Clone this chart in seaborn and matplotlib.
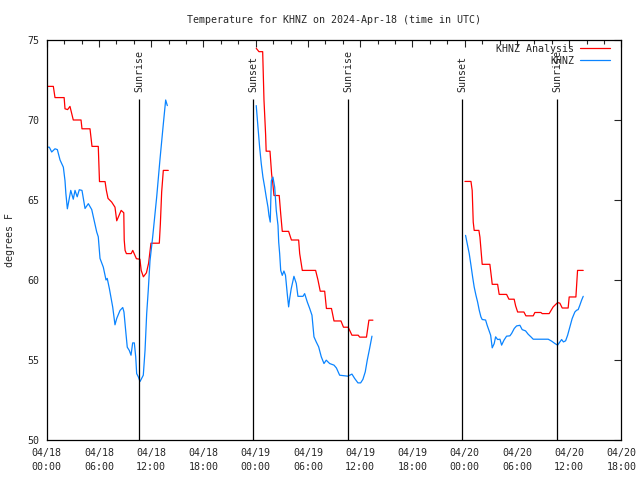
import numpy as np
import pandas as pd
import matplotlib
matplotlib.use("Agg")
import matplotlib.pyplot as plt
import matplotlib.dates as mdates
import seaborn as sns

START = pd.Timestamp("2024-04-18 00:00")

# hours since 04/18 00:00 UTC, temperatures in degrees F
# KHNZ Analysis (red)
ana_hours_1 = [0, 0.76, 0.95, 2.0, 2.1, 2.4, 2.67, 3.05, 3.94, 4.05, 4.97, 5.2, 5.92, 6.06,
               6.7, 6.85, 7.04, 7.46, 7.84, 8.04, 8.55, 8.85, 8.9, 9.0, 9.15, 9.7, 9.88,
               10.3, 10.7, 10.85, 11.1, 11.45, 11.7, 11.97, 12.93, 13.05, 13.2, 13.39, 13.96]
ana_temp_1 = [72.1, 72.1, 71.4, 71.4, 70.7, 70.65, 70.85, 70.0, 70.0, 69.45, 69.45, 68.35, 68.35, 66.15,
              66.15, 65.6, 65.1, 64.87, 64.55, 63.7, 64.35, 64.2, 62.5, 61.85, 61.65, 61.65, 61.85,
              61.33, 61.3, 60.6, 60.2, 60.45, 61.05, 62.3, 62.3, 63.5, 65.5, 66.85, 66.85]
ana_hours_2 = [24.06, 24.37, 24.8, 24.95, 25.14, 25.2, 25.64, 25.83, 25.95, 26.1, 26.7, 26.87,
               27.05, 27.78, 28.1, 28.93, 29.05, 29.35, 30.88, 31.15, 31.41, 31.92, 32.12,
               32.7, 32.99, 33.79, 34.08, 34.62, 35.05, 35.77, 35.94, 36.72, 37.0, 37.46]
ana_temp_2 = [74.48, 74.27, 74.27, 71.25, 69.06, 68.05, 68.05, 66.6, 66.1, 65.28, 65.28, 64.14,
              63.04, 63.04, 62.5, 62.5, 61.65, 60.6, 60.6, 60.0, 59.3, 59.3, 58.22,
              58.22, 57.44, 57.44, 57.05, 57.05, 56.55, 56.55, 56.43, 56.43, 57.49, 57.49]
ana_hours_3 = [48.03, 48.72, 48.86, 48.98, 49.09, 49.63, 49.75, 49.86, 50.01, 50.89, 51.09, 51.16,
               51.78, 51.96, 52.81, 53.08, 53.68, 53.85, 54.08, 54.8, 55.03, 55.87, 56.06,
               56.75, 56.9, 57.7, 58.16, 58.67, 58.93, 59.2, 59.88, 60.0, 60.77, 60.96, 61.61]
ana_temp_3 = [66.16, 66.16, 65.6, 63.62, 63.1, 63.1, 62.68, 61.96, 60.98, 60.98, 60.08, 59.73,
              59.73, 59.1, 59.1, 58.8, 58.8, 58.38, 58.0, 58.0, 57.76, 57.76, 57.97,
              57.97, 57.9, 57.9, 58.32, 58.59, 58.55, 58.25, 58.25, 58.94, 58.94, 60.6, 60.6]

# KHNZ observations (blue)
obs_hours_1 = [0, 0.3, 0.57, 0.95, 1.22, 1.53, 1.91, 2.1, 2.2, 2.37, 2.76, 3.05, 3.25, 3.5, 3.74,
               4.05, 4.4, 4.78, 5.17, 5.74, 5.92, 6.12, 6.5, 6.81, 6.95, 7.2, 7.58, 7.84, 8.04,
               8.42, 8.73, 8.87, 9.1, 9.25, 9.48, 9.68, 9.87, 10.06, 10.22, 10.33, 10.52, 10.71,
               11.09, 11.29, 11.48, 11.66, 11.86, 12.17, 12.63, 13.0, 13.39, 13.66, 13.85]
obs_temp_1 = [68.3, 68.3, 68.0, 68.2, 68.15, 67.5, 67.05, 66.2, 65.4, 64.45, 65.6, 65.05, 65.6, 65.2, 65.64,
              65.6, 64.47, 64.77, 64.4, 63.0, 62.7, 61.35, 60.8, 60.0, 60.1, 59.45, 58.3, 57.2, 57.6,
              58.1, 58.28, 58.0, 56.65, 55.8, 55.6, 55.3, 56.07, 56.07, 55.2, 54.15, 53.95, 53.65,
              54.05, 55.6, 57.9, 59.35, 61.2, 62.7, 65.2, 67.5, 69.75, 71.25, 70.9]
obs_hours_2 = [24.06, 24.26, 24.45, 24.64, 24.83, 25.03, 25.21, 25.41, 25.52, 25.67, 25.79, 25.98,
               26.18, 26.36, 26.56, 26.64, 26.75, 26.87, 27.05, 27.24, 27.42, 27.62, 27.78, 27.9,
               28.08, 28.39, 28.66, 28.85, 29.43, 29.62, 29.92, 30.2, 30.46, 30.69, 30.95, 31.23,
               31.53, 31.84, 32.1, 32.49, 32.99, 33.27, 33.64, 34.59, 35.05, 35.36, 35.74, 36.05,
               36.31, 36.58, 36.81, 37.08, 37.35]
obs_temp_2 = [70.9, 69.55, 68.3, 67.26, 66.43, 65.8, 65.18, 64.55, 64.04, 63.62, 66.2, 66.43,
              65.8, 64.35, 63.41, 62.37, 61.65, 60.6, 60.29, 60.56, 60.3, 59.15, 58.32, 58.84,
              59.46, 60.23, 59.78, 58.98, 58.98, 59.15, 58.63, 58.22, 57.8, 56.45, 56.13, 55.82,
              55.2, 54.78, 54.99, 54.78, 54.68, 54.5, 54.05, 53.99, 54.12, 53.85, 53.57, 53.57,
              53.79, 54.26, 54.99, 55.72, 56.49]
obs_hours_3 = [48.1, 48.33, 48.52, 48.72, 48.91, 49.09, 49.29, 49.48, 49.67, 49.86, 50.01, 50.4,
               50.58, 50.78, 50.98, 51.16, 51.39, 51.55, 51.78, 52.05, 52.24, 52.51, 52.81, 53.19,
               53.39, 53.69, 53.96, 54.34, 54.6, 54.99, 55.29, 55.6, 55.87, 57.59, 57.98, 58.36,
               58.67, 58.93, 59.13, 59.34, 59.59, 59.82, 60.08, 60.34, 60.65, 60.85, 61.03, 61.22,
               61.42, 61.61]
obs_temp_3 = [62.79, 62.16, 61.65, 60.92, 60.19, 59.56, 59.05, 58.63, 58.11, 57.7, 57.53, 57.5,
              57.17, 56.86, 56.55, 55.76, 56.03, 56.45, 56.28, 56.3, 55.93, 56.24, 56.49, 56.51,
              56.66, 56.97, 57.13, 57.17, 56.9, 56.82, 56.61, 56.45, 56.3, 56.3, 56.18, 56.03,
              55.93, 56.13, 56.28, 56.13, 56.2, 56.55, 57.07, 57.59, 58.0, 58.11, 58.15, 58.42,
              58.73, 58.98]

sun_hours = [10.64, 23.72, 34.62, 47.74, 58.6]
sun_labels = ["Sunrise", "Sunset", "Sunrise", "Sunset", "Sunrise"]


def to_time(hours):
    return START + pd.to_timedelta(np.array(hours), unit="h")


rows = []
for name, segs in [("KHNZ Analysis", [(ana_hours_1, ana_temp_1), (ana_hours_2, ana_temp_2),
                                      (ana_hours_3, ana_temp_3)]),
                   ("KHNZ", [(obs_hours_1, obs_temp_1), (obs_hours_2, obs_temp_2),
                             (obs_hours_3, obs_temp_3)])]:
    for i, (h, t) in enumerate(segs):
        rows.append(pd.DataFrame({"time": to_time(h), "temp": t, "series": name, "seg": i}))
df = pd.concat(rows, ignore_index=True)

sns.set_style("white")
plt.rcParams["font.family"] = ["DejaVu Sans Mono"]
plt.rcParams["font.size"] = 7.2

fig = plt.figure(figsize=(6.4, 4.8), dpi=100)
ax = fig.add_axes([0.073, 0.0833, 0.898, 0.8334])

colors = {"KHNZ Analysis": "#ff0000", "KHNZ": "#0a84ff"}
for (name, seg), sdf in df.groupby(["series", "seg"], sort=False):
    sns.lineplot(data=sdf, x="time", y="temp", ax=ax, color=colors[name], lw=0.9,
                 estimator=None, sort=False, label=name if seg == 0 else None)

for h, lab in zip(sun_hours, sun_labels):
    t = START + pd.Timedelta(hours=h)
    ax.vlines(t, 50, 71.3, color="black", lw=0.9)
    ax.text(t, 71.75, lab, rotation=90, ha="center", va="bottom", fontsize=7.2)

ax.set_xlim(START, START + pd.Timedelta(hours=66))
ax.set_ylim(50, 75)
ax.set_yticks([50, 55, 60, 65, 70, 75])
ax.xaxis.set_major_locator(mdates.HourLocator(byhour=[0, 6, 12, 18]))
ax.xaxis.set_minor_locator(mdates.HourLocator(interval=2))
ax.xaxis.set_major_formatter(mdates.DateFormatter("%m/%d\n%H:%M"))
ax.tick_params(axis="both", which="major", direction="in", length=5, width=0.8,
               top=True, right=True, labelsize=7.2)
ax.tick_params(axis="x", which="major", pad=6)
ax.tick_params(axis="y", which="major", pad=5)
ax.tick_params(axis="x", which="minor", direction="in", length=3, width=0.8, top=True)
for lab in ax.get_xticklabels():
    lab.set_linespacing(1.5)
for sp in ax.spines.values():
    sp.set_color("black")
    sp.set_linewidth(0.9)

ax.set_xlabel("")
ax.set_ylabel("degrees F", fontsize=7.2, labelpad=9)
ax.set_title("Temperature for KHNZ on 2024-Apr-18 (time in UTC)", fontsize=7.2, pad=12)
ax.legend(loc="upper right", bbox_to_anchor=(0.993, 1.008), frameon=False, markerfirst=False,
          handlelength=3.0, fontsize=7.2, borderaxespad=0.3, labelspacing=0.2,
          handletextpad=0.6)

fig.savefig("out.png", dpi=100)
plt.close(fig)
